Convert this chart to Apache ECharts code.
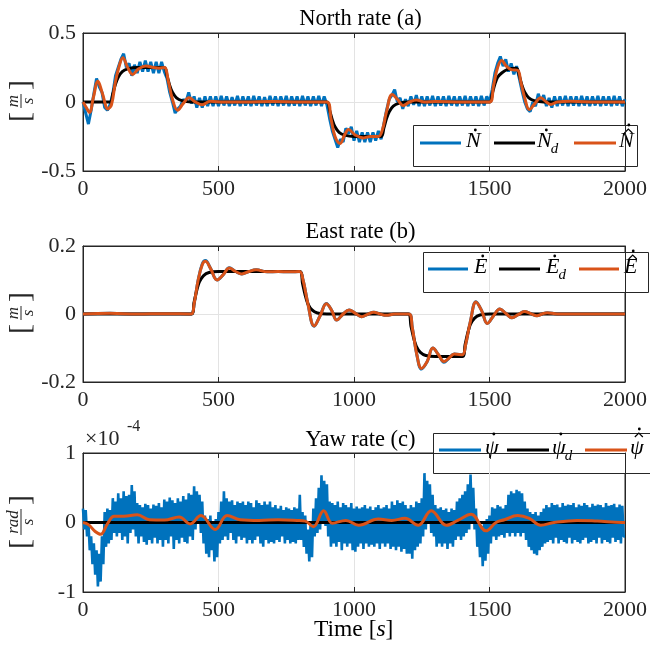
<!DOCTYPE html>
<html><head><meta charset="utf-8">
<script src="https://cdn.jsdelivr.net/npm/echarts@6/dist/echarts.min.js"></script>
<style>html,body{margin:0;padding:0;background:#fff}#c{width:650px;height:653px}</style>
</head><body><div id="c"></div>
<script>
// ---------------- data ----------------
const STEP = 10;     // sample spacing (s) of the measured north series
const YAW_STEP = 5;  // sample spacing (s) of the measured yaw series
const titles = ['North rate (a)', 'East rate (b)', 'Yaw rate (c)'];
const xTicks = [0, 500, 1000, 1500, 2000];

// North: measured (every 10 s from 0 to 2000)
const northMeas = [
 0.0,-0.08,-0.16,-0.06,0.06,0.17,0.11,0.07,-0.04,-0.06,
 -0.02,0.06,0.19,0.25,0.31,0.35,0.25,0.28,0.19,0.27,
 0.21,0.29,0.22,0.30,0.22,0.29,0.21,0.29,0.21,0.29,
 0.22,0.17,0.07,0.0,-0.08,-0.05,-0.03,0.02,0.0,0.07,
 -0.01,0.04,-0.04,0.03,-0.04,0.04,-0.03,0.04,-0.03,0.04,
 -0.03,0.045,-0.025,0.04,-0.03,0.035,-0.025,0.045,-0.03,0.04,
 -0.025,0.04,-0.03,0.045,-0.025,0.04,-0.03,0.035,-0.03,0.045,
 -0.025,0.04,-0.03,0.04,-0.025,0.045,-0.03,0.04,-0.025,0.04,
 -0.03,0.045,-0.025,0.04,-0.03,0.04,-0.025,0.045,-0.03,0.04,
 -0.02,-0.12,-0.21,-0.27,-0.33,-0.27,-0.29,-0.19,-0.23,-0.18,
 -0.28,-0.21,-0.29,-0.22,-0.29,-0.22,-0.29,-0.22,-0.28,-0.21,
 -0.27,-0.16,-0.06,0.02,0.05,0.09,0.0,0.03,-0.05,0.02,
 -0.03,0.04,-0.02,0.05,-0.03,0.04,
 -0.03,0.04,-0.025,0.045,-0.03,0.04,-0.025,0.04,-0.03,0.045,
 -0.025,0.04,-0.03,0.04,-0.025,0.045,-0.03,0.04,-0.025,0.04,
 -0.03,0.045,-0.025,0.04,
 0.0,0.09,0.21,0.28,0.33,0.26,0.31,0.22,0.28,0.20,
 0.26,0.17,0.08,0.0,-0.05,-0.07,0.0,-0.03,0.06,0.0,
 0.05,-0.03,0.03,-0.04,0.04,
 -0.03,0.04,-0.025,0.045,-0.03,0.04,-0.025,0.04,-0.03,0.045,
 -0.025,0.04,-0.03,0.04,-0.025,0.045,-0.03,0.04,-0.025,0.04,
 -0.03,0.045,-0.025,0.04,-0.03,0.02
];
// North: desired
const northDesT = [0,100,110,120,130,145,165,200,300,310,320,330,345,365,400,900,910,920,930,945,965,1000,1100,1110,1120,1130,1145,1165,1200,1500,1510,1520,1530,1545,1565,1600,1610,1620,1630,1645,1665,1700,2000];
const northDesV = [0,0,0.06,0.13,0.18,0.22,0.24,0.25,0.25,0.19,0.12,0.07,0.03,0.01,0,0,-0.06,-0.13,-0.18,-0.22,-0.24,-0.25,-0.25,-0.19,-0.12,-0.07,-0.03,-0.01,0,0,0.06,0.13,0.18,0.21,0.235,0.245,0.19,0.12,0.07,0.03,0.01,0,0];
// North: estimated
const northEstT = [0,12,24,38,55,72,92,105,120,135,147,165,183,205,232,260,281,300,315,330,349,370,391,415,440,470,520,600,700,800,900,915,930,949,965,980,1005,1035,1060,1090,1105,1120,1141,1160,1182,1205,1230,1260,1300,1400,1500,1515,1530,1545,1562,1580,1604,1615,1630,1647,1668,1689,1710,1726,1750,1800,1900,2000];
const northEstV = [0,-0.04,-0.075,0.03,0.15,0.06,-0.05,-0.02,0.15,0.27,0.32,0.25,0.20,0.24,0.26,0.25,0.245,0.25,0.15,0.02,-0.06,-0.01,0.03,0.0,-0.02,0.005,0,0,0.003,0,0,-0.12,-0.25,-0.30,-0.24,-0.20,-0.24,-0.26,-0.25,-0.25,-0.20,-0.07,0.055,0.02,-0.025,0,0.015,0,0.003,0,0,0.12,0.25,0.30,0.26,0.235,0.23,0.15,0.03,-0.055,-0.01,0.03,0,-0.018,0,0.005,0,0];

// East: measured follows the estimate closely
const eastMeasT = [0,100,200,300,399,410,425,440,452,470,495,517,540,563,586,612,639,680,720,760,799,812,830,853,875,898,918,936,960,982,1005,1028,1050,1073,1096,1119,1150,1203,1215,1232,1249,1270,1291,1312,1332,1350,1370,1400,1412,1430,1450,1471,1492,1515,1538,1560,1583,1606,1629,1652,1675,1694,1713,1750,1800,1900,2000];
const eastMeasV = [0,0.002,0,0.001,0,0.03,0.10,0.147,0.157,0.135,0.10,0.115,0.136,0.125,0.118,0.125,0.13,0.124,0.125,0.124,0.125,0.10,0.03,-0.036,-0.005,0.031,0.01,-0.018,0.0,0.012,0.002,-0.008,-0.001,0.005,0.0,-0.004,0,0,-0.04,-0.12,-0.162,-0.14,-0.10,-0.12,-0.142,-0.13,-0.118,-0.12,-0.09,-0.02,0.036,0.01,-0.028,-0.005,0.015,0.002,-0.011,-0.002,0.007,0.001,-0.005,0,0.004,0,0.0,0,0];
const eastDesT = [0,400,410,420,430,445,465,500,800,810,820,830,845,865,900,1200,1210,1220,1230,1245,1265,1300,1400,1410,1420,1430,1445,1465,1500,2000];
const eastDesV = [0,0,0.035,0.07,0.095,0.113,0.122,0.125,0.125,0.09,0.055,0.03,0.012,0.003,0,0,-0.035,-0.07,-0.095,-0.113,-0.122,-0.125,-0.125,-0.09,-0.055,-0.03,-0.012,-0.003,0,0];
const eastEstT = [0,100,200,300,399,410,425,440,452,470,495,517,540,563,586,612,639,680,720,760,799,812,830,853,875,898,918,936,960,982,1005,1028,1050,1073,1096,1119,1150,1203,1215,1232,1249,1270,1291,1312,1332,1350,1370,1400,1412,1430,1450,1471,1492,1515,1538,1560,1583,1606,1629,1652,1675,1694,1713,1750,1800,1900,2000];
const eastEstV = [0,0.002,0,0.001,0,0.03,0.10,0.145,0.155,0.135,0.10,0.115,0.135,0.125,0.118,0.125,0.13,0.124,0.125,0.124,0.125,0.10,0.03,-0.035,-0.005,0.03,0.01,-0.018,0.0,0.012,0.002,-0.008,-0.001,0.005,0.0,-0.004,0,0,-0.04,-0.12,-0.16,-0.14,-0.10,-0.12,-0.14,-0.13,-0.118,-0.12,-0.09,-0.02,0.035,0.01,-0.028,-0.005,0.015,0.002,-0.011,-0.002,0.007,0.001,-0.005,0,0.004,0,0.0,0,0];

// Yaw (units of 1e-4 rad/s): measured every 5 s (one row = 100 s)
const yawMeas = [
 0.2,-0.1,0.18,-0.2,0.0,-0.4,-0.2,-0.6,-0.3,-0.75,-0.4,-0.92,-0.45,-0.85,-0.2,-0.6,0.15,-0.35,0.2,-0.3,
 0.18,-0.25,0.35,-0.15,0.3,-0.2,0.42,-0.15,0.35,-0.25,0.45,-0.2,0.38,-0.3,0.4,-0.15,0.54,-0.1,0.45,-0.2,
 0.28,-0.3,0.25,-0.2,0.22,-0.28,0.27,-0.32,0.25,-0.25,0.2,-0.3,0.26,-0.22,0.24,-0.3,0.28,-0.25,0.22,-0.35,
 0.33,-0.25,0.3,-0.3,0.36,-0.2,0.32,-0.38,0.28,-0.25,0.35,-0.3,0.3,-0.22,0.38,-0.28,0.33,-0.3,0.42,-0.2,
 0.4,-0.25,0.52,-0.1,0.45,0.0,0.4,-0.15,0.3,-0.3,0.1,-0.45,0.05,-0.5,0.1,-0.4,0.0,-0.56,0.05,-0.5,
 0.15,-0.3,0.3,-0.25,0.45,-0.2,0.35,-0.25,0.3,-0.15,0.32,-0.25,0.25,-0.3,0.3,-0.2,0.28,-0.25,0.3,-0.22,
 0.25,-0.3,0.3,-0.25,0.28,-0.3,0.22,-0.25,0.32,-0.2,0.28,-0.3,0.25,-0.35,0.3,-0.25,0.26,-0.3,0.3,-0.28,
 0.22,-0.3,0.25,-0.25,0.2,-0.28,0.24,-0.2,0.18,-0.3,0.22,-0.25,0.2,-0.3,0.18,-0.28,0.22,-0.3,0.2,-0.25,
 0.4,-0.25,0.15,-0.35,0.1,-0.45,-0.1,-0.56,0.0,-0.5,0.2,-0.2,0.35,-0.15,0.5,-0.1,0.68,0.0,0.6,-0.05,
 0.55,-0.2,0.3,-0.35,0.28,-0.3,0.25,-0.35,0.3,-0.28,0.22,-0.4,0.28,-0.3,0.25,-0.35,0.22,-0.3,0.28,-0.4,
 0.2,-0.42,0.23,-0.35,0.2,-0.3,0.22,-0.38,0.25,-0.3,0.2,-0.35,0.23,-0.32,0.18,-0.35,0.22,-0.3,0.25,-0.38,
 0.2,-0.3,0.22,-0.35,0.25,-0.3,0.2,-0.38,0.3,-0.35,0.25,-0.4,0.32,-0.35,0.28,-0.42,0.3,-0.38,0.25,-0.45,
 0.2,-0.45,0.25,-0.52,0.22,-0.4,0.3,-0.35,0.28,-0.3,0.35,-0.2,0.71,-0.1,0.6,0.0,0.55,-0.15,0.4,-0.2,
 0.25,-0.35,0.2,-0.3,0.22,-0.35,0.18,-0.3,0.2,-0.38,0.15,-0.3,0.2,-0.35,0.18,-0.25,0.3,-0.2,0.35,-0.25,
 0.4,-0.2,0.45,-0.15,0.55,-0.1,0.69,0.0,0.5,-0.1,0.2,-0.35,0.0,-0.5,-0.05,-0.63,0.0,-0.55,0.05,-0.45,
 0.1,-0.3,0.22,-0.2,0.2,-0.25,0.25,-0.2,0.23,-0.18,0.2,-0.22,0.25,-0.15,0.4,-0.2,0.45,-0.15,0.42,-0.2,
 0.47,-0.15,0.45,-0.2,0.42,-0.15,0.3,-0.25,0.2,-0.35,0.15,-0.4,0.12,-0.45,0.15,-0.47,0.1,-0.4,0.15,-0.35,
 0.2,-0.3,0.25,-0.28,0.22,-0.25,0.28,-0.3,0.25,-0.22,0.26,-0.3,0.22,-0.25,0.28,-0.28,0.24,-0.3,0.26,-0.22,
 0.25,-0.3,0.28,-0.25,0.22,-0.28,0.26,-0.3,0.24,-0.25,0.28,-0.22,0.25,-0.3,0.22,-0.28,0.27,-0.25,0.24,-0.3,
 0.26,-0.22,0.25,-0.3,0.22,-0.25,0.28,-0.28,0.24,-0.3,0.25,-0.22,0.27,-0.28,0.22,-0.25,0.26,-0.3,0.24,-0.2,
 -0.2
];
const yawDesT = [0, 2000];
const yawDesV = [0, 0];
const yawEstT = [0,20,45,65,90,115,150,200,245,300,355,395,435,488,532,580,650,720,790,820,850,888,920,970,1017,1090,1139,1188,1237,1285,1341,1383,1432,1487,1524,1555,1604,1647,1689,1738,1823,1897,1990,2000];
const yawEstV = [0,-0.03,-0.13,-0.17,-0.02,0.09,0.09,0.11,0.04,0.035,0.08,-0.02,0.1,-0.1,0.1,0.04,0.03,0.04,0.03,0.02,-0.06,0.17,-0.01,0.03,-0.04,0.05,0.03,0.06,-0.04,0.17,-0.04,0.03,0.12,-0.12,0.0,0.04,0.1,0.06,-0.04,0.0,0.03,0.02,0.0,0.0];

const yRanges = [[-0.5, 0.5, 0.5], [-0.2, 0.2, 0.2], [-1, 1, 1]];

// ---------------- chart ----------------
const BLUE = '#0072BD', BLACK = '#000000', ORANGE = '#D95319';
const FONT = 'Liberation Serif';
const AX = '#262626';
const grids = [
  {left: 83, right: 22, top: 33, height: 138},
  {left: 83, right: 22, top: 246, height: 136},
  {left: 83, right: 22, top: 453, height: 139}
];
const pairs = (T, V) => T.map((t, i) => [t, V[i]]);
const stepPairs = (V, st) => V.map((v, i) => [i * st, v]);

const xAxis = [], yAxis = [], series = [];
grids.forEach((g, gi) => {
  const common = {
    axisLine: {show: true, onZero: false, lineStyle: {color: AX, width: 1}},
    axisTick: {show: true, inside: true, length: 5, lineStyle: {color: AX}}
  };
  xAxis.push(Object.assign({
    type: 'value', gridIndex: gi, min: xTicks[0], max: xTicks[xTicks.length - 1], interval: 500, position: 'bottom',
    axisLabel: {show: true, fontFamily: FONT, fontSize: 22, color: AX, margin: 7, formatter: v => String(v)},
    splitLine: {show: true, lineStyle: {color: '#e3e3e3', width: 1}}
  }, common));
  xAxis.push(Object.assign({
    type: 'value', gridIndex: gi, min: 0, max: 2000, interval: 500, position: 'top',
    axisLabel: {show: false}, splitLine: {show: false}
  }, common));
  const [mn, mx, it] = yRanges[gi];
  yAxis.push(Object.assign({
    type: 'value', gridIndex: gi, min: mn, max: mx, interval: it, position: 'left',
    axisLabel: {show: true, fontFamily: FONT, fontSize: 22, color: AX, margin: 7, formatter: v => String(v)},
    splitLine: {show: true, lineStyle: {color: '#e3e3e3', width: 1}}
  }, common));
  yAxis.push(Object.assign({
    type: 'value', gridIndex: gi, min: mn, max: mx, interval: it, position: 'right',
    axisLabel: {show: false}, splitLine: {show: false}
  }, common));
});

function addLine(gi, name, data, color, smooth, z, w) {
  series.push({
    type: 'line', name, xAxisIndex: gi * 2, yAxisIndex: gi * 2, data,
    symbol: 'none', showSymbol: false, smooth, z,
    lineStyle: {color, width: w || 3}, itemStyle: {color}, animation: false
  });
}
addLine(0, 'N_meas', stepPairs(northMeas, STEP), BLUE, false, 2);
addLine(0, 'N_des', pairs(northDesT, northDesV), BLACK, 0.3, 3);
addLine(0, 'N_est', pairs(northEstT, northEstV), ORANGE, 0.4, 4);
addLine(1, 'E_meas', pairs(eastMeasT, eastMeasV), BLUE, 0.4, 2);
addLine(1, 'E_des', pairs(eastDesT, eastDesV), BLACK, 0.3, 3);
addLine(1, 'E_est', pairs(eastEstT, eastEstV), ORANGE, 0.4, 4);
addLine(2, 'psi_meas', stepPairs(yawMeas, YAW_STEP), BLUE, false, 2, 2.6);
addLine(2, 'psi_des', pairs(yawDesT, yawDesV), BLACK, false, 3);
addLine(2, 'psi_est', pairs(yawEstT, yawEstV), ORANGE, 0.4, 4);

const titleY = [3, 216, 424];
const title = titles.map((t, i) => ({
  text: t, left: 355.5, top: titleY[i], textAlign: 'center',
  textStyle: {fontFamily: FONT, fontWeight: 'normal', fontSize: 22.5, color: '#000'}
}));

// ---- legend boxes (drawn with graphic elements for accent marks) ----
const mctx = document.createElement('canvas').getContext('2d');
function textW(s, font) { mctx.font = font; return mctx.measureText(s).width; }
const LFONT = 'italic 22px "Liberation Serif"';
const SFONT = 'italic 15px "Liberation Serif"';
function legendBox(L, T, W, H, ly, items, dotUp) {
  const ch = [{type: 'rect', shape: {x: L + 0.5, y: T + 0.5, width: W, height: H},
    style: {fill: '#fff', stroke: AX, lineWidth: 1}}];
  items.forEach(it => {
    ch.push({type: 'line', shape: {x1: it.x1, y1: ly, x2: it.x2, y2: ly}, style: {stroke: it.color, lineWidth: 3}});
    const w = textW(it.base, LFONT);
    ch.push({type: 'text', x: it.tx, y: ly - 2, style: {text: it.base, font: LFONT, fill: '#000', verticalAlign: 'middle', align: 'left'}});
    const cx = it.tx + w / 2 + 2;
    if (it.hat) {
      ch.push({type: 'polyline', shape: {points: [[cx - 4, ly - 10 - dotUp], [cx, ly - 14 - dotUp], [cx + 4, ly - 10 - dotUp]]},
        style: {stroke: '#000', lineWidth: 1.2, fill: null}});
      ch.push({type: 'circle', shape: {cx: cx + 0.5, cy: ly - 18 - dotUp, r: 1.4}, style: {fill: '#000'}});
    } else {
      ch.push({type: 'circle', shape: {cx: cx, cy: ly - 13 - dotUp, r: 1.4}, style: {fill: '#000'}});
    }
    if (it.sub) {
      ch.push({type: 'text', x: it.tx + w - 1, y: ly + 6, style: {text: it.sub, font: SFONT, fill: '#000', verticalAlign: 'middle', align: 'left'}});
    }
  });
  return {type: 'group', z: 50, children: ch};
}
const legendGraphics = [
  legendBox(413, 125, 224, 41, 143, [
    {x1: 420, x2: 461, color: BLUE, tx: 466, base: 'N'},
    {x1: 494, x2: 535, color: BLACK, tx: 537, base: 'N', sub: 'd'},
    {x1: 574, x2: 616, color: ORANGE, tx: 619, base: 'N', hat: true}
  ], 0),
  legendBox(423, 252, 225, 40, 269, [
    {x1: 428, x2: 468, color: BLUE, tx: 474, base: 'E'},
    {x1: 499, x2: 540, color: BLACK, tx: 546, base: 'E', sub: 'd'},
    {x1: 579, x2: 619, color: ORANGE, tx: 624, base: 'E', hat: true}
  ], 0),
  legendBox(433, 433, 230, 40, 450, [
    {x1: 439, x2: 481, color: BLUE, tx: 485, base: 'ψ'},
    {x1: 507, x2: 549, color: BLACK, tx: 552, base: 'ψ', sub: 'd'},
    {x1: 585, x2: 627, color: ORANGE, tx: 630, base: 'ψ', hat: true}
  ], 3)
];

function fracLabel(cx, cy, num, halfW, bracketOff) {
  const st = {fontFamily: FONT, fontStyle: 'italic', fontSize: 17, fill: AX, align: 'center', verticalAlign: 'middle'};
  const bs = {fontFamily: FONT, fontSize: 30, fill: AX, align: 'center', verticalAlign: 'middle'};
  return {
    type: 'group', x: cx, y: cy, rotation: Math.PI / 2,
    children: [
      {type: 'text', x: 0, y: -7, style: Object.assign({text: num}, st)},
      {type: 'line', shape: {x1: -halfW, y1: 0, x2: halfW, y2: 0}, style: {stroke: AX, lineWidth: 1}},
      {type: 'text', x: 0, y: 8, style: Object.assign({text: 's'}, st)},
      {type: 'text', x: -bracketOff, y: 0, style: Object.assign({text: '['}, bs)},
      {type: 'text', x: bracketOff, y: 0, style: Object.assign({text: ']'}, bs)}
    ]
  };
}

const graphic = [
  fracLabel(21, 101, 'm', 7, 16),
  fracLabel(21, 313, 'm', 7, 16),
  fracLabel(21, 522, 'rad', 13, 22),
  {type: 'text', left: 85, top: 428, style: {text: '×10', fontFamily: FONT, fontSize: 22, fill: AX}},
  {type: 'text', left: 127, top: 419, style: {text: '-4', fontFamily: FONT, fontSize: 16, fill: AX}},
  {type: 'text', left: 314, top: 618, style: {
    text: '{u|Time [}{it|s}{u|]}',
    rich: {u: {fontFamily: FONT, fontSize: 23.5, color: AX}, it: {fontFamily: FONT, fontStyle: 'italic', fontSize: 23.5, color: AX}}
  }}
].concat(legendGraphics);

const chart = echarts.init(document.getElementById('c'), null, {renderer: 'canvas'});
chart.setOption({
  animation: false,
  backgroundColor: '#fff',
  title, grid: grids.map(g => Object.assign({show: true, borderColor: AX, borderWidth: 1, backgroundColor: 'transparent'}, g)),
  xAxis, yAxis, series, graphic
});
</script></body></html>
